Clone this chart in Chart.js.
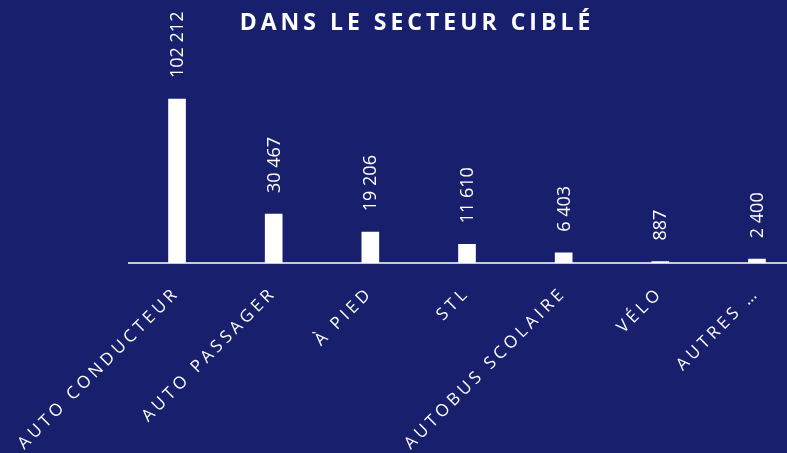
<!DOCTYPE html>
<html>
<head>
<meta charset="utf-8">
<script src="https://cdn.jsdelivr.net/npm/chart.js@4"></script>
<style>
  html, body { margin: 0; padding: 0; background: #181f6c; overflow: hidden; }
  #wrap { width: 830px; height: 453px; }
</style>
</head>
<body>
<div id="wrap"><canvas id="modeChart" width="830" height="453"></canvas></div>
<script>
// Données
const modes = ['AUTO CONDUCTEUR', 'AUTO PASSAGER', 'À PIED', 'STL', 'AUTOBUS SCOLAIRE', 'VÉLO', 'AUTRES …'];
const deplacements = [102212, 30467, 19206, 11610, 6403, 887, 2400];
const titre = 'DANS LE SECTEUR CIBLÉ';

const fmt = v => String(v).replace(/\B(?=(\d{3})+(?!\d))/g, ' ');

// espacement des lettres des étiquettes de l'axe
const spacing = {
    id: 'spacing',
    beforeLayout(chart) { chart.ctx.letterSpacing = '3.8px'; },
    beforeDraw(chart) { chart.ctx.letterSpacing = '3.8px'; }
};

// titre + valeurs verticales au-dessus des barres
const valueLabels = {
    id: 'valueLabels',
    afterDatasetsDraw(chart) {
        const ctx = chart.ctx;
        const bars = chart.getDatasetMeta(0).data;
        ctx.save();
        ctx.fillStyle = '#ffffff';

        ctx.letterSpacing = '4px';
        ctx.font = 'bold 23px "Open Sans"';
        ctx.textAlign = 'center';
        ctx.textBaseline = 'alphabetic';
        ctx.fillText(titre, 417, 30);

        ctx.letterSpacing = '0px';
        ctx.font = '18px "Open Sans"';
        ctx.textAlign = 'left';
        ctx.textBaseline = 'middle';
        bars.forEach((bar, i) => {
            ctx.save();
            ctx.translate(bar.x + 1, bar.y - 21);
            ctx.rotate(-Math.PI / 2);
            ctx.fillText(fmt(deplacements[i]), 0, 0);
            ctx.restore();
        });
        ctx.restore();
    }
};

const ctx = document.getElementById('modeChart').getContext('2d');
const modeChart = new Chart(ctx, {
    type: 'bar',
    data: {
        labels: modes,
        datasets: [{
            data: deplacements,
            backgroundColor: '#ffffff',
            borderWidth: 0,
            barThickness: 17
        }]
    },
    options: {
        responsive: false,
        animation: false,
        devicePixelRatio: 1,
        layout: { padding: { left: 128.7, right: 24.7, top: 54.4, bottom: 0 } },
        plugins: {
            legend: { display: false },
            tooltip: { enabled: false }
        },
        scales: {
            x: {
                grid: { display: false, drawTicks: false },
                border: { display: true, color: '#c9cad6', width: 2 },
                ticks: {
                    color: '#ffffff',
                    font: { family: 'Open Sans', size: 17 },
                    minRotation: 45,
                    maxRotation: 45,
                    autoSkip: false,
                    padding: 20
                },
                afterFit(scale) {
                    scale.height = 190;
                    scale.paddingLeft = 0;
                    scale.paddingRight = 0;
                }
            },
            y: {
                display: false,
                min: 0,
                max: 130000
            }
        }
    },
    plugins: [spacing, valueLabels]
});
</script>
</body>
</html>
